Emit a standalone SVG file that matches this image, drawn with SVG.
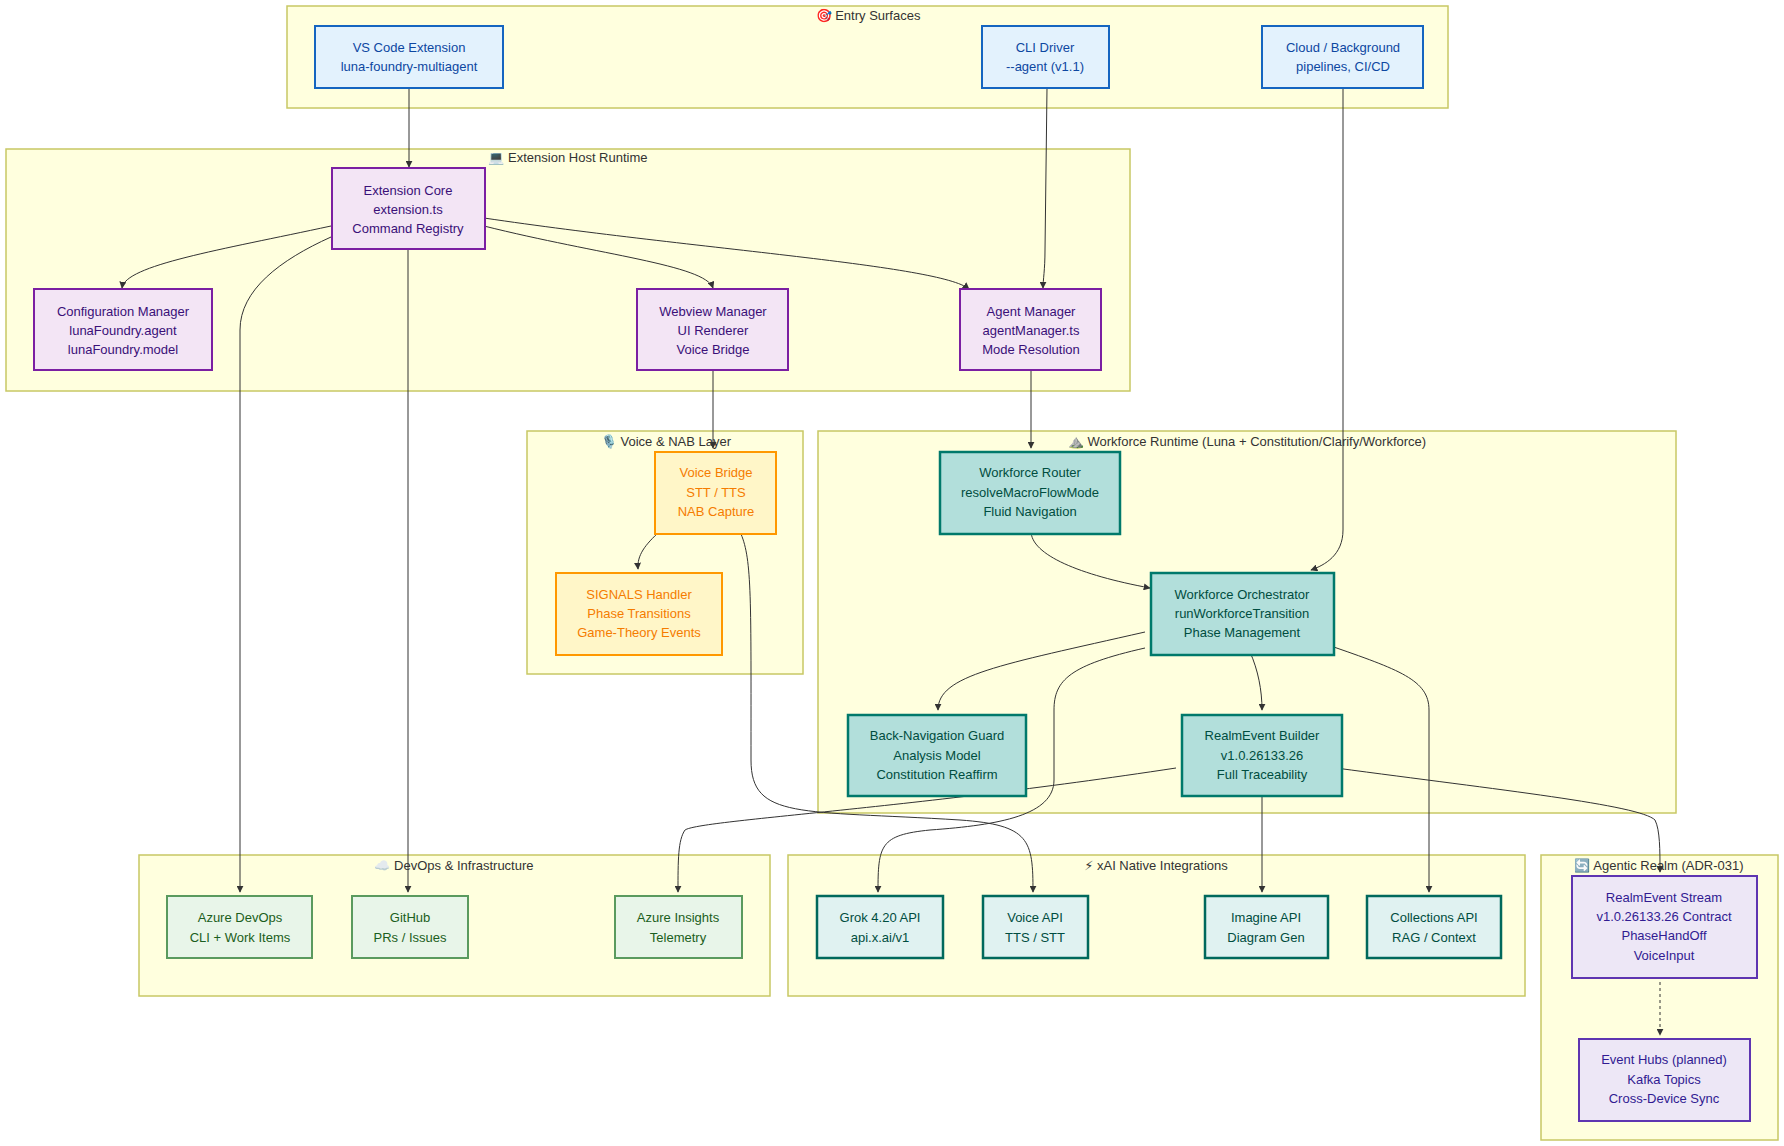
<svg xmlns="http://www.w3.org/2000/svg" width="1784" height="1146" viewBox="0 0 1784 1146">
<defs>
<style>
text{font-family:"Liberation Sans","DejaVu Sans",sans-serif;font-size:13px;text-anchor:middle}
.cl{fill:#ffffde;stroke:#c8c864;stroke-width:1.5}
.ct{fill:#333;font-size:13px}
.blue rect{fill:#e3f2fd;stroke:#1565c0;stroke-width:2}.blue text{fill:#0d47a1}
.pur rect{fill:#f3e5f5;stroke:#7b1fa2;stroke-width:2}.pur text{fill:#3a1078}
.org rect{fill:#fff6c8;stroke:#ff9800;stroke-width:2}.org text{fill:#f57c00}
.teal rect{fill:#b2dfdb;stroke:#00796b;stroke-width:2.5}.teal text{fill:#004d40}
.grn rect{fill:#e8f5e9;stroke:#5a9a5e;stroke-width:2}.grn text{fill:#1b5e20}
.xai rect{fill:#e0f2f1;stroke:#00695c;stroke-width:2.5}.xai text{fill:#004d40}
.rlm rect{fill:#ede7f6;stroke:#5e35b1;stroke-width:2}.rlm text{fill:#311b92}
#edges path{fill:none;stroke:#333;stroke-width:1;marker-end:url(#ar)}
</style>
<marker id="ar" viewBox="0 0 10 10" refX="9" refY="5" markerWidth="7" markerHeight="7" orient="auto"><path d="M0,0L10,5L0,10z" fill="#333"/></marker>
</defs>
<rect width="1784" height="1146" fill="#fff"/>
<g id="clusters">
<rect class="cl" x="287" y="6" width="1161" height="102"/><text class="ct" x="868" y="20">🎯 Entry Surfaces</text>
<rect class="cl" x="6" y="149" width="1124" height="242"/><text class="ct" x="568" y="162">💻 Extension Host Runtime</text>
<rect class="cl" x="527" y="431" width="276" height="243"/><text class="ct" x="666" y="446">🎙️ Voice &amp; NAB Layer</text>
<rect class="cl" x="818" y="431" width="858" height="382"/><text class="ct" x="1247" y="446">⛰️ Workforce Runtime (Luna + Constitution/Clarify/Workforce)</text>
<rect class="cl" x="139" y="855" width="631" height="141"/><text class="ct" x="454" y="870">☁️ DevOps &amp; Infrastructure</text>
<rect class="cl" x="788" y="855" width="737" height="141"/><text class="ct" x="1156" y="870">⚡ xAI Native Integrations</text>
<rect class="cl" x="1541" y="855" width="237" height="285"/><text class="ct" x="1659" y="870">🔄 Agentic Realm (ADR-031)</text>
</g>
<g id="edges">
<path d="M409,88L409,167"/>
<path d="M331,226C220,250 125,265 122,288"/>
<path d="M331,237C280,260 240,290 240,330L240,892"/>
<path d="M408,249L408,892"/>
<path d="M484,226C600,255 705,265 713,288"/>
<path d="M484,218C700,250 940,265 969,289"/>
<path d="M1047,88L1045,250C1045,270 1043,280 1043,288"/>
<path d="M1343,88L1343,530C1343,555 1325,565 1311,570"/>
<path d="M713,370L713,448"/>
<path d="M1031,370L1031,448"/>
<path d="M660,531C645,545 637,555 638,569"/>
<path d="M741,534C752,560 751,600 751,760C751,820 800,810 960,820C1030,825 1033,840 1033,892"/>
<path d="M1031,531C1031,555 1080,575 1150,588"/>
<path d="M1145,632C1000,665 938,675 938,710"/>
<path d="M1145,648C1070,665 1054,680 1054,710L1054,780C1054,815 1000,825 930,830C880,835 878,845 878,892"/>
<path d="M1250,652C1258,670 1262,690 1262,710"/>
<path d="M1328,645C1400,670 1429,680 1429,710L1429,892"/>
<path d="M1176,768C900,810 700,820 685,830C678,840 678,860 678,892"/>
<path d="M1262,793L1262,892"/>
<path d="M1336,768C1500,790 1640,805 1655,820C1660,830 1660,850 1660,872"/>
<path d="M1660,976L1660,1035" stroke-dasharray="3,3"/>
</g>
<g id="n_vscode" class="blue"><rect x="315" y="26" width="188" height="62"/><text x="409" y="52">VS Code Extension</text><text x="409" y="71">luna-foundry-multiagent</text></g>
<g id="n_cli" class="blue"><rect x="982" y="26" width="127" height="62"/><text x="1045" y="52">CLI Driver</text><text x="1045" y="71">--agent (v1.1)</text></g>
<g id="n_cloud" class="blue"><rect x="1262" y="26" width="161" height="62"/><text x="1343" y="52">Cloud / Background</text><text x="1343" y="71">pipelines, CI/CD</text></g>
<g id="n_core" class="pur"><rect x="332" y="168" width="153" height="81"/><text x="408" y="195">Extension Core</text><text x="408" y="214">extension.ts</text><text x="408" y="233">Command Registry</text></g>
<g id="n_config" class="pur"><rect x="34" y="289" width="178" height="81"/><text x="123" y="316">Configuration Manager</text><text x="123" y="335">lunaFoundry.agent</text><text x="123" y="354">lunaFoundry.model</text></g>
<g id="n_webview" class="pur"><rect x="637" y="289" width="151" height="81"/><text x="713" y="316">Webview Manager</text><text x="713" y="335">UI Renderer</text><text x="713" y="354">Voice Bridge</text></g>
<g id="n_agent" class="pur"><rect x="960" y="289" width="141" height="81"/><text x="1031" y="316">Agent Manager</text><text x="1031" y="335">agentManager.ts</text><text x="1031" y="354">Mode Resolution</text></g>
<g id="n_voicebridge" class="org"><rect x="655" y="452" width="121" height="82"/><text x="716" y="477">Voice Bridge</text><text x="716" y="497">STT / TTS</text><text x="716" y="516">NAB Capture</text></g>
<g id="n_signals" class="org"><rect x="556" y="573" width="166" height="82"/><text x="639" y="599">SIGNALS Handler</text><text x="639" y="618">Phase Transitions</text><text x="639" y="637">Game-Theory Events</text></g>
<g id="n_router" class="teal"><rect x="940" y="452" width="180" height="82"/><text x="1030" y="477">Workforce Router</text><text x="1030" y="497">resolveMacroFlowMode</text><text x="1030" y="516">Fluid Navigation</text></g>
<g id="n_orch" class="teal"><rect x="1151" y="573" width="183" height="82"/><text x="1242" y="599">Workforce Orchestrator</text><text x="1242" y="618">runWorkforceTransition</text><text x="1242" y="637">Phase Management</text></g>
<g id="n_backnav" class="teal"><rect x="848" y="715" width="178" height="81"/><text x="937" y="740">Back-Navigation Guard</text><text x="937" y="760">Analysis Model</text><text x="937" y="779">Constitution Reaffirm</text></g>
<g id="n_builder" class="teal"><rect x="1182" y="715" width="160" height="81"/><text x="1262" y="740">RealmEvent Builder</text><text x="1262" y="760">v1.0.26133.26</text><text x="1262" y="779">Full Traceability</text></g>
<g id="n_azdevops" class="grn"><rect x="167" y="896" width="145" height="62"/><text x="240" y="922">Azure DevOps</text><text x="240" y="942">CLI + Work Items</text></g>
<g id="n_github" class="grn"><rect x="352" y="896" width="116" height="62"/><text x="410" y="922">GitHub</text><text x="410" y="942">PRs / Issues</text></g>
<g id="n_insights" class="grn"><rect x="615" y="896" width="127" height="62"/><text x="678" y="922">Azure Insights</text><text x="678" y="942">Telemetry</text></g>
<g id="n_grok" class="xai"><rect x="817" y="896" width="126" height="62"/><text x="880" y="922">Grok 4.20 API</text><text x="880" y="942">api.x.ai/v1</text></g>
<g id="n_voiceapi" class="xai"><rect x="983" y="896" width="105" height="62"/><text x="1035" y="922">Voice API</text><text x="1035" y="942">TTS / STT</text></g>
<g id="n_imagine" class="xai"><rect x="1205" y="896" width="123" height="62"/><text x="1266" y="922">Imagine API</text><text x="1266" y="942">Diagram Gen</text></g>
<g id="n_collections" class="xai"><rect x="1367" y="896" width="134" height="62"/><text x="1434" y="922">Collections API</text><text x="1434" y="942">RAG / Context</text></g>
<g id="n_stream" class="rlm"><rect x="1572" y="876" width="185" height="102"/><text x="1664" y="902">RealmEvent Stream</text><text x="1664" y="921">v1.0.26133.26 Contract</text><text x="1664" y="940">PhaseHandOff</text><text x="1664" y="960">VoiceInput</text></g>
<g id="n_eventhubs" class="rlm"><rect x="1579" y="1039" width="171" height="82"/><text x="1664" y="1064">Event Hubs (planned)</text><text x="1664" y="1084">Kafka Topics</text><text x="1664" y="1103">Cross-Device Sync</text></g>
</svg>
